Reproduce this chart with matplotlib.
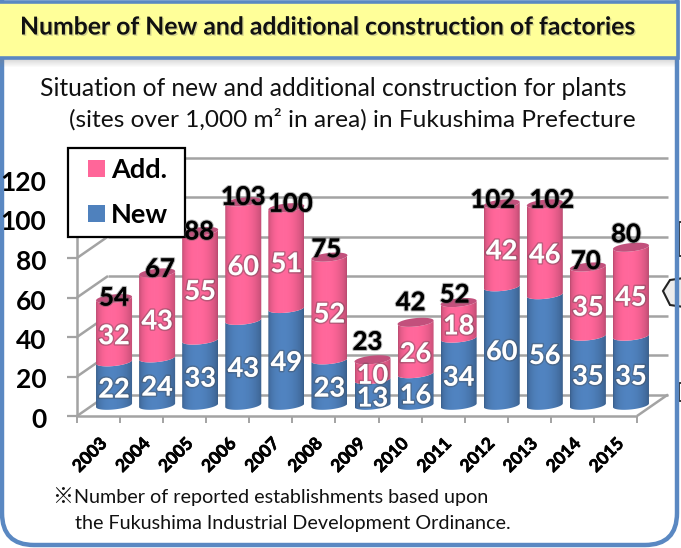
import matplotlib
matplotlib.use("Agg")
import matplotlib.pyplot as plt
import matplotlib.patheffects as pe
import numpy as np
from matplotlib.legend_handler import HandlerPatch
from matplotlib.patches import FancyBboxPatch, Patch, PathPatch, Polygon, Rectangle
from matplotlib.path import Path
from matplotlib.transforms import ScaledTranslation

plt.rcParams["font.family"] = ["Lato", "Noto Sans CJK JP", "DejaVu Sans"]

years = ["2003", "2004", "2005", "2006", "2007", "2008", "2009", "2010", "2011", "2012", "2013", "2014", "2015"]
new_sites = [22, 24, 33, 43, 49, 23, 13, 16, 34, 60, 56, 35, 35]
add_sites = [32, 43, 55, 60, 51, 52, 10, 26, 18, 42, 46, 35, 45]
y_ticks = [0, 20, 40, 60, 80, 100, 120]

W, H = 681, 548
BLUE = "#4f81bd"
PINK = "#ff6699"
GRID = "#a3a3a3"

# plot box in pixels, front plane of the 3d chart
LEFT, RIGHT, BOTTOM, TOP = 77, 637, 416, 179
DEPTH_X, DEPTH_Y = 31, 21.5
PX = len(years) / (RIGHT - LEFT)
PY = 120 / (BOTTOM - TOP)
dx, dy = DEPTH_X * PX, DEPTH_Y * PY
half_w = 18 * PX
ell_h = 4.2 * PY
tilt = 1.8 * PY


def shade(color, k):
    rgb = np.array(matplotlib.colors.to_rgb(color))
    return np.clip(rgb * k, 0, 1)


def cylinder_side(ax, cx, y0, y1, color):
    t = np.linspace(np.pi, 2 * np.pi, 40)
    xs = cx + half_w * np.cos(t)
    low = y0 + ell_h * np.sin(t) + tilt * np.cos(t)
    high = y1 + ell_h * np.sin(t) + tilt * np.cos(t)
    verts = np.r_[np.c_[xs, low], np.c_[xs, high][::-1], [[xs[0], low[0]]]]
    patch = PathPatch(Path(verts), fc="none", ec="none", zorder=4, clip_on=False)
    ax.add_patch(patch)
    u = np.linspace(0, 1, 64)
    k = 0.72 + 0.3 * np.sin(np.pi * u ** 0.8) ** 0.6
    img = np.array([shade(color, v) for v in k])[None, :, :]
    top = y1 + ell_h + tilt
    bottom = y0 - ell_h - tilt
    im = ax.imshow(img, extent=(cx - half_w, cx + half_w, bottom, top), aspect="auto", zorder=4, interpolation="bilinear")
    im.set_clip_path(patch)
    im.set_clip_box(ax.figure.bbox)


def cylinder_top(ax, cx, y, color):
    t = np.linspace(0, 2 * np.pi, 60)
    verts = np.c_[cx + half_w * np.cos(t), y + ell_h * np.sin(t) + tilt * np.cos(t)]
    ax.add_patch(Polygon(verts, closed=True, fc=color, ec="none", zorder=5, clip_on=False))


def legend_swatch(legend, orig_handle, xdescent, ydescent, width, height, fontsize):
    size = 12.2
    return Rectangle((width - size - xdescent, (height - size) / 2 - ydescent), size, size)


def draw_frame(bg):
    bg.add_patch(FancyBboxPatch((2, -40), 675, 585, boxstyle="round,pad=0,rounding_size=32", fc="white", ec="none"))
    # pieces of the neighbouring callout cut off by the slide edge
    bg.add_patch(Polygon([(684, 278), (670, 280), (663, 291), (670, 305), (684, 307)], closed=True, fc="#ececec", ec="#222222", lw=1.5))
    bg.add_patch(Rectangle((679, 222), 6, 34, fc="white", ec="#222222", lw=1.3))
    bg.add_patch(Rectangle((679, 383), 6, 18, fc="white", ec="#222222", lw=1.3))
    bg.add_patch(FancyBboxPatch((2, -40), 675, 585, boxstyle="round,pad=0,rounding_size=32", fc="none", ec="#5a88c2", lw=3.2))
    for i in range(8):
        bg.add_patch(Rectangle((0, 59 + i), 676, 1, fc="#808080", alpha=0.3 * (1 - i / 8), ec="none"))
    bg.add_patch(Rectangle((-2, 2), 680, 56, fc="#ffff99", ec="#5a88c2", lw=2.6))

    bg.text(20, 27, "Number of New and additional construction of factories", fontsize=17.8, fontweight="bold", va="center", color="#111111",
            path_effects=[pe.withSimplePatchShadow(offset=(1, -1), shadow_rgbFace="#777777", alpha=0.3)])
    bg.text(40, 88, "Situation of new and additional construction for plants", fontsize=17.7, va="center", color="#111111")
    bg.text(69, 119, "(sites over 1,000 m\u00b2 in area) in Fukushima Prefecture", fontsize=17.6, va="center", color="#111111")
    bg.text(52, 497, "\u203b", fontsize=15, va="center", color="#111111")
    bg.text(74, 497, "Number of reported establishments based upon", fontsize=14.2, va="center", color="#111111")
    bg.text(75, 523, "the Fukushima Industrial Development Ordinance.", fontsize=14.2, va="center", color="#111111")


def draw_walls(ax):
    line = dict(color=GRID, lw=1.8, solid_capstyle="butt", zorder=1, clip_on=False)
    n = len(years)
    for v in y_ticks:
        ax.plot([0, dx], [v, v + dy], **line)
        ax.plot([dx, n + dx], [v + dy, v + dy], **line)
    ax.plot([n, n + dx], [0, dy], **line)
    ax.plot([0, 0], [0, 120], **line)
    ax.plot([0, n], [0, 0], **line)


def draw_bars(ax):
    # nudges of the total labels in pixels, as placed in the source chart
    nudge_x = [0, 3, -1, 0, 4, -3, -5, -5, -4, -9, 7, -2, -5]
    nudge_y = [9, 12, 8, 13, 12, 16, 26, 28, 16, 12, 12, 14, 21]
    seg_drop = 6 * PY
    soft = [pe.withStroke(linewidth=2.2, foreground="#44444455")]
    glow = [pe.withStroke(linewidth=1.6, foreground="#55555577")]
    for i, (n_val, a_val) in enumerate(zip(new_sites, add_sites)):
        cx = i + 0.5 + dx / 2
        base = dy / 2
        mid = base + n_val
        top = mid + a_val
        cylinder_side(ax, cx, base, mid, BLUE)
        cylinder_side(ax, cx, mid, top, PINK)
        cylinder_top(ax, cx, top, "#c2507c")
        ax.text(cx, base + n_val / 2 - seg_drop, str(n_val), color="white", fontsize=19.5, fontweight="bold", ha="center", va="center", zorder=8, path_effects=soft)
        ax.text(cx, mid + a_val / 2 - seg_drop, str(a_val), color="white", fontsize=19.5, fontweight="bold", ha="center", va="center", zorder=8, path_effects=soft)
        ax.text(cx + nudge_x[i] * PX, top + nudge_y[i] * PY - 8 * PY, str(n_val + a_val), color="black", fontsize=18.5, fontweight="bold",
                ha="center", va="center", zorder=12, path_effects=glow)


def main():
    fig = plt.figure(figsize=(W / 100, H / 100), dpi=100)
    bg = fig.add_axes([0, 0, 1, 1], zorder=0)
    bg.set_xlim(0, W)
    bg.set_ylim(H, 0)
    bg.axis("off")
    draw_frame(bg)

    ax = fig.add_axes([LEFT / W, 1 - BOTTOM / H, (RIGHT - LEFT) / W, (BOTTOM - TOP) / H], zorder=1)
    ax.patch.set_alpha(0)
    for spine in ax.spines.values():
        spine.set_visible(False)

    draw_walls(ax)
    draw_bars(ax)
    ax.set_xlim(0, len(years))
    ax.set_ylim(0, 120)

    ax.set_yticks(y_ticks)
    ax.set_yticklabels([str(v) for v in y_ticks], fontsize=19, fontweight="bold")
    ax.tick_params(axis="y", length=7, width=1.6, color=GRID, pad=15)
    shift = ScaledTranslation(0, -2 / 100, fig.dpi_scale_trans)
    for label in ax.get_yticklabels():
        label.set_transform(label.get_transform() + shift)
    ax.set_xticks(np.arange(len(years) + 1))
    ax.set_xticklabels([])
    ax.set_xticks(np.arange(len(years)) + 0.5, minor=True)
    ax.set_xticklabels(years, minor=True, rotation=45, ha="right", va="top", rotation_mode="anchor", fontsize=12.5, fontweight="bold",
                       path_effects=[pe.withStroke(linewidth=0.5, foreground="black")])
    ax.tick_params(axis="x", which="major", length=5, width=1.4, color=GRID)
    ax.tick_params(axis="x", which="minor", length=0, pad=14)

    handles = [Patch(fc=PINK, label="Add."), Patch(fc=BLUE, label="New")]
    anchor = ((68 - LEFT) / (RIGHT - LEFT), (BOTTOM - 234) / (BOTTOM - TOP), 117 / (RIGHT - LEFT), 86 / (BOTTOM - TOP))
    leg = ax.legend(handles=handles, loc="upper left", bbox_to_anchor=anchor, mode="expand",
                    handler_map={Patch: HandlerPatch(patch_func=legend_swatch)},
                    borderaxespad=0, fancybox=False, framealpha=1, edgecolor="black", handlelength=1.02, handleheight=0.7, handletextpad=0.22,
                    labelspacing=0.78, borderpad=0.36, prop={"size": 19.5, "weight": "bold"})
    leg.get_frame().set_linewidth(1.6)
    leg.set_zorder(10)

    fig.savefig("out.png", dpi=100)
    plt.close(fig)


if __name__ == "__main__":
    main()
